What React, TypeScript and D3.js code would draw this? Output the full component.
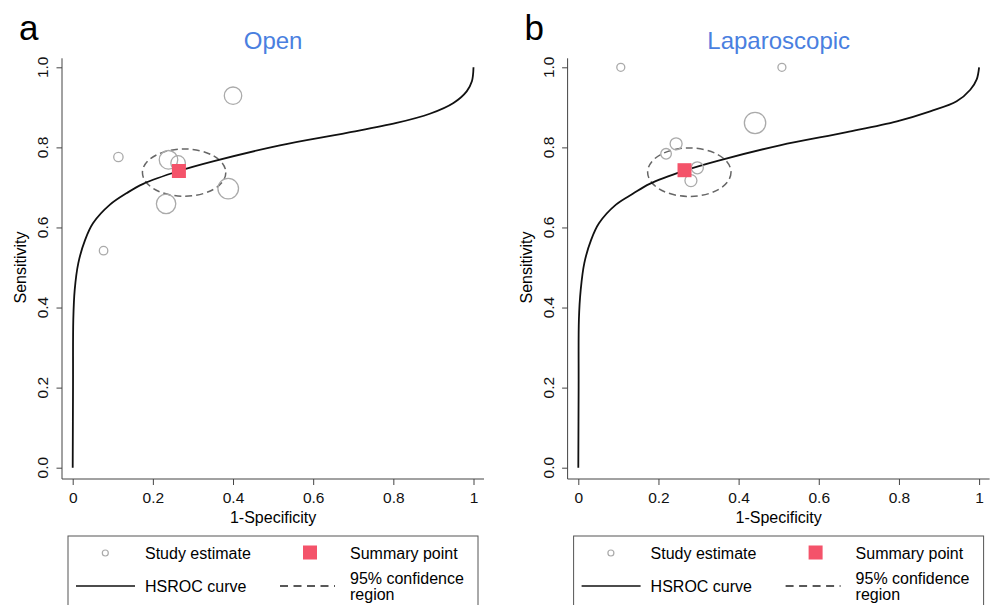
import React, { useEffect, useRef } from "react";
import * as d3 from "d3";

// study estimates
const openFpr = [0.077, 0.114, 0.233, 0.239, 0.263, 0.388, 0.4];
const openSens = [0.542, 0.776, 0.659, 0.769, 0.761, 0.697, 0.929];
const openWeight = [18, 22, 94, 86, 53, 106, 76];

const lapFpr = [0.106, 0.219, 0.244, 0.281, 0.297, 0.441, 0.508];
const lapSens = [1.0, 0.784, 0.809, 0.717, 0.749, 0.861, 1.0];
const lapWeight = [16, 28, 36, 36, 36, 114, 16];

// summary point [1-spec, sens]
const openSummary = [0.265, 0.741];
const lapSummary = [0.265, 0.743];

// 95% confidence region [cx, cy, rx, ry]
const openRegion = [0.278, 0.737, 0.104, 0.059];
const lapRegion = [0.277, 0.738, 0.104, 0.0605];

// HSROC curve, points
const openCurve = [
  [0, 0], [0.0008, 0.2], [0.0015, 0.37], [0.005, 0.444], [0.014, 0.511],
  [0.031, 0.569], [0.051, 0.611], [0.093, 0.657], [0.135, 0.686],
  [0.176, 0.709], [0.265, 0.741], [0.35, 0.765], [0.517, 0.805],
  [0.684, 0.836], [0.808, 0.861], [0.891, 0.884], [0.95, 0.911],
  [0.983, 0.94], [0.996, 0.965], [1, 1],
];
const lapCurve = [
  [0, 0], [0.0008, 0.2], [0.0015, 0.37], [0.006, 0.444], [0.015, 0.511],
  [0.032, 0.569], [0.052, 0.611], [0.094, 0.657], [0.136, 0.684],
  [0.178, 0.709], [0.265, 0.742], [0.35, 0.767], [0.503, 0.805],
  [0.67, 0.838], [0.795, 0.865], [0.878, 0.89], [0.944, 0.915],
  [0.978, 0.944], [0.994, 0.97], [1, 1],
];

const panelLetters = ["a", "b"];
const panelTitles = ["Open", "Laparoscopic"];
const xTicks = [0, 0.2, 0.4, 0.6, 0.8, 1];
const yTicks = [0, 0.2, 0.4, 0.6, 0.8, 1];

const FONT = "'Liberation Sans', Arial, Helvetica, sans-serif";
const RED = "#f4536a";

const App = () => {
  const ref = useRef(null);

  useEffect(() => {
    const svg = d3.select(ref.current);
    svg.selectAll("*").remove();

    const panels = [
      { fpr: openFpr, sens: openSens, w: openWeight, summary: openSummary, region: openRegion, curve: openCurve },
      { fpr: lapFpr, sens: lapSens, w: lapWeight, summary: lapSummary, region: lapRegion, curve: lapCurve },
    ];

    const r = d3.scaleSqrt().domain([0, 100]).range([0, 10]);

    panels.forEach((p, i) => {
      const ox = i * 505.6;
      const x = d3.scaleLinear().domain([0, 1]).range([ox + 72.7, ox + 473.5]);
      const y = d3.scaleLinear().domain([0, 1]).range([467.7, 67.3]);
      const g = svg.append("g").style("font-family", FONT);

      // panel letter and title
      g.append("text")
        .attr("x", ox + 19)
        .attr("y", 39.5)
        .style("font-size", "35px")
        .text(panelLetters[i]);
      g.append("text")
        .attr("x", (x(0) + x(1)) / 2)
        .attr("y", 48.5)
        .attr("text-anchor", "middle")
        .style("font-size", "24px")
        .style("fill", "#4a7fe0")
        .text(panelTitles[i]);

      // x axis
      const xa = g
        .append("g")
        .attr("transform", "translate(0,479)")
        .call(
          d3
            .axisBottom(x)
            .tickValues(xTicks)
            .tickSize(6)
            .tickSizeOuter(0)
            .tickPadding(6.5)
            .tickFormat((d) => (d === 0 || d === 1 ? String(d) : d3.format(".1f")(d)))
        );
      xa.select(".domain").remove();
      xa.selectAll("line").attr("stroke", "#444");
      xa.selectAll("text")
        .style("font-size", "15.5px")
        .style("font-family", FONT)
        .attr("fill", "#111");
      g.append("line")
        .attr("x1", ox + 62)
        .attr("x2", ox + 484)
        .attr("y1", 479)
        .attr("y2", 479)
        .attr("stroke", "#444");

      // y axis
      const ya = g
        .append("g")
        .attr("transform", `translate(${ox + 62},0)`)
        .call(d3.axisLeft(y).tickValues(yTicks).tickSize(5.5).tickSizeOuter(0).tickFormat(() => ""));
      ya.select(".domain").remove();
      ya.selectAll("line").attr("stroke", "#444");
      g.append("line")
        .attr("x1", ox + 62)
        .attr("x2", ox + 62)
        .attr("y1", 58.3)
        .attr("y2", 479)
        .attr("stroke", "#444");
      g.selectAll("text.ytick")
        .data(yTicks)
        .enter()
        .append("text")
        .attr("class", "ytick")
        .attr("transform", (d) => `translate(${ox + 48},${y(d)}) rotate(-90)`)
        .attr("text-anchor", "middle")
        .style("font-size", "15.5px")
        .style("fill", "#111")
        .text((d) => d3.format(".1f")(d));

      // axis titles
      g.append("text")
        .attr("x", (x(0) + x(1)) / 2)
        .attr("y", 523)
        .attr("text-anchor", "middle")
        .style("font-size", "16px")
        .text("1-Specificity");
      g.append("text")
        .attr("transform", `translate(${ox + 26},${(y(0) + y(1)) / 2}) rotate(-90)`)
        .attr("text-anchor", "middle")
        .style("font-size", "16px")
        .text("Sensitivity");

      // confidence region
      const [cx, cy, rx, ry] = p.region;
      g.append("ellipse")
        .attr("cx", x(cx))
        .attr("cy", y(cy))
        .attr("rx", x(cx + rx) - x(cx))
        .attr("ry", y(cy) - y(cy + ry))
        .attr("fill", "none")
        .attr("stroke", "#666")
        .attr("stroke-width", 1.5)
        .attr("stroke-dasharray", "7 4");

      // HSROC curve
      const line = d3
        .line()
        .x((d) => x(d[0]))
        .y((d) => y(d[1]))
        .curve(d3.curveCatmullRom.alpha(0.5));
      g.append("path")
        .datum(p.curve)
        .attr("d", line)
        .attr("fill", "none")
        .attr("stroke", "#111")
        .attr("stroke-width", 1.8);

      // study estimates
      g.selectAll("circle.study")
        .data(p.fpr)
        .enter()
        .append("circle")
        .attr("class", "study")
        .attr("cx", (d) => x(d))
        .attr("cy", (d, j) => y(p.sens[j]))
        .attr("r", (d, j) => r(p.w[j]))
        .attr("fill", "none")
        .attr("stroke", "#aaa")
        .attr("stroke-width", 1.3);

      // summary point
      g.append("rect")
        .attr("x", x(p.summary[0]) - 7)
        .attr("y", y(p.summary[1]) - 7)
        .attr("width", 14)
        .attr("height", 14)
        .attr("fill", RED);

      // legend
      const lx = ox + 68;
      const lg = g.append("g");
      lg.append("rect")
        .attr("x", lx)
        .attr("y", 536)
        .attr("width", 410)
        .attr("height", 90)
        .attr("fill", "white")
        .attr("stroke", "#555");
      lg.append("circle")
        .attr("cx", lx + 37.3)
        .attr("cy", 553)
        .attr("r", 3)
        .attr("fill", "none")
        .attr("stroke", "#aaa")
        .attr("stroke-width", 1.2);
      lg.append("rect")
        .attr("x", lx + 235)
        .attr("y", 545.5)
        .attr("width", 14)
        .attr("height", 14)
        .attr("fill", RED);
      lg.append("line")
        .attr("x1", lx + 8)
        .attr("x2", lx + 67)
        .attr("y1", 586)
        .attr("y2", 586)
        .attr("stroke", "#111")
        .attr("stroke-width", 1.3);
      lg.append("line")
        .attr("x1", lx + 212)
        .attr("x2", lx + 267)
        .attr("y1", 586)
        .attr("y2", 586)
        .attr("stroke", "#222")
        .attr("stroke-width", 1.3)
        .attr("stroke-dasharray", "8 5.5");
      const items = [
        ["Study estimate", 77, 559],
        ["Summary point", 282, 559],
        ["HSROC curve", 77, 592],
        ["95% confidence", 282, 584],
        ["region", 282, 599.5],
      ];
      items.forEach(([t, dx, ty]) => {
        lg.append("text")
          .attr("x", lx + dx)
          .attr("y", ty)
          .style("font-size", "16px")
          .text(t);
      });
    });
  }, []);

  return (
    <svg
      ref={ref}
      width={990}
      height={605}
      style={{ position: "absolute", left: 0, top: 0, background: "white" }}
    ></svg>
  );
};

export default App;
